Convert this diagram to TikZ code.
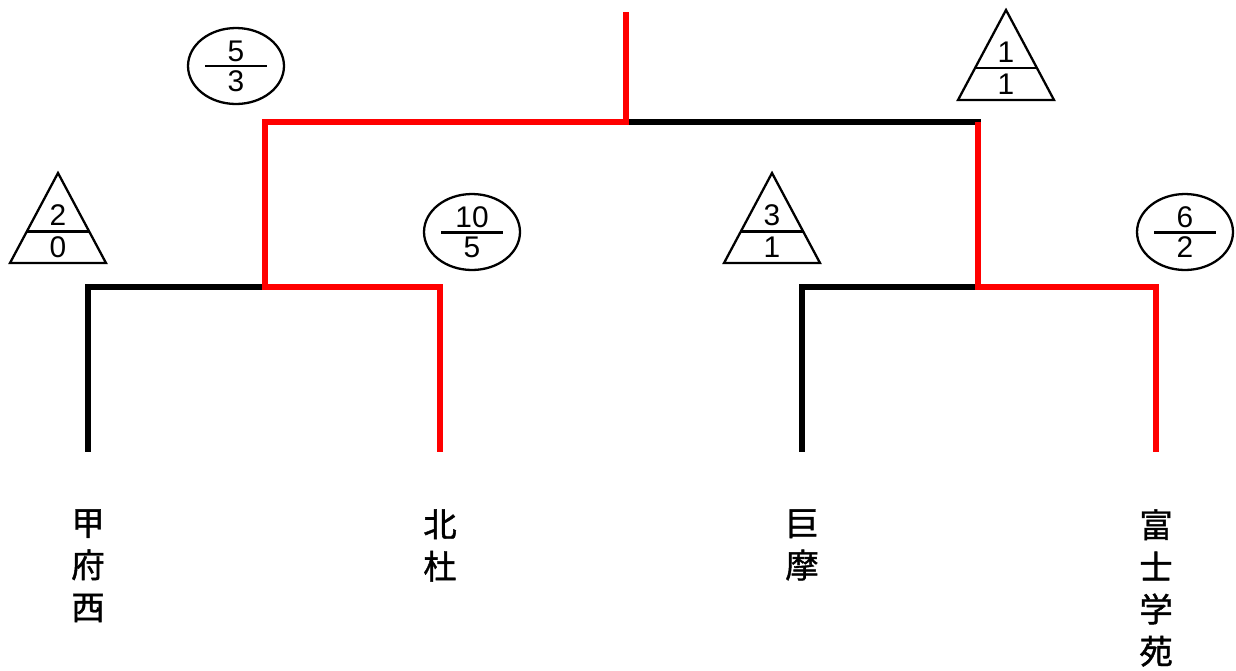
\documentclass[tikz,border=0pt]{standalone}
\usepackage{fontspec}
\setmainfont{Noto Sans CJK JP}
\newfontfamily\teamfont[FakeBold=1.2]{Noto Sans CJK JP}
\newfontfamily\digitfont{Liberation Sans}
\usetikzlibrary{shapes,calc}
\definecolor{WinRed}{HTML}{FF0000}
\tikzset{
    win/.style = {draw=WinRed, line width=0.13cm},
    lose/.style = {draw=black, line width=0.13cm},
    team/.style = {anchor=north, inner sep=0pt, align=center,
        font=\teamfont\fontsize{19}{24}\selectfont},
    score/.style = {inner sep=0pt, font=\digitfont\fontsize{17}{17}\selectfont},
    markline/.style = {draw, line width=1.3pt},
    divline/.style = {draw, line width=1.7pt},
    oval/.style = {draw, ellipse, line width=1.3pt,
        minimum width=1.92cm, minimum height=1.52cm}
}

\begin{document}
\begin{tikzpicture}[x=0.02cm, y=-0.02cm]
  \useasboundingbox (0,0) rectangle (1236,670);
  % bracket joints
  \coordinate (final) at (626,12);
  \coordinate (champ) at (626,122);
  \coordinate (semiL) at (265,122);
  \coordinate (semiR) at (978,122);
  \coordinate (jointL) at (265,287);
  \coordinate (jointR) at (978,287);
  \foreach \nm/\px in {kofu/88,hokuto/440,kyoma/802,fuji/1156}{
    \coordinate (\nm T) at (\px,287);
    \coordinate (\nm E) at (\px,452);
  };
  % teams
  \node[team] (kofu)   at (88,509)   {甲\\府\\西};
  \node[team] (hokuto) at (440,509)  {北\\杜};
  \node[team] (kyoma)  at (802,509)  {巨\\摩};
  \node[team] (fuji)   at (1156,509) {富\\士\\学\\苑};
  % lines
  \draw[lose] (jointL) -- (kofuT) -- (kofuE);
  \draw[lose] (jointR) -- (kyomaT) -- (kyomaE);
  \draw[lose] (champ) -- ($(semiR)+(3,0)$);
  \draw[win] (final) -- (champ) -- (semiL) -- (jointL) -- (hokutoT) -- (hokutoE);
  \draw[win] (semiR) -- (jointR) -- (fujiT) -- (fujiE);
  % scores (triangle)
  \foreach \nm/\px/\py/\up/\dn in {triKofu/58/263/2/0,triKyoma/772/263/3/1,triFinal/1006/100/1/1}{
    \draw[markline] (\px-48,\py) -- (\px,\py-90) -- (\px+48,\py) -- cycle;
    \draw[divline] (\px-31,\py-32) -- (\px+31,\py-32);
    \node[score] (\nm-up) at (\px,\py-48) {\up};
    \node[score] (\nm-dn) at (\px,\py-16) {\dn};
  };
  % scores (circle)
  \foreach \nm/\px/\py/\up/\dn in {ovHokuto/236/66/5/3,ovKofu/472/232/10/5,ovFuji/1185/232/6/2}{
    \node[oval] (\nm) at (\px,\py) {};
    \draw[divline] (\px-31,\py) -- (\px+31,\py);
    \node[score] (\nm-up) at (\px,\py-15) {\up};
    \node[score] (\nm-dn) at (\px,\py+15) {\dn};
  };
\end{tikzpicture}
\end{document}
